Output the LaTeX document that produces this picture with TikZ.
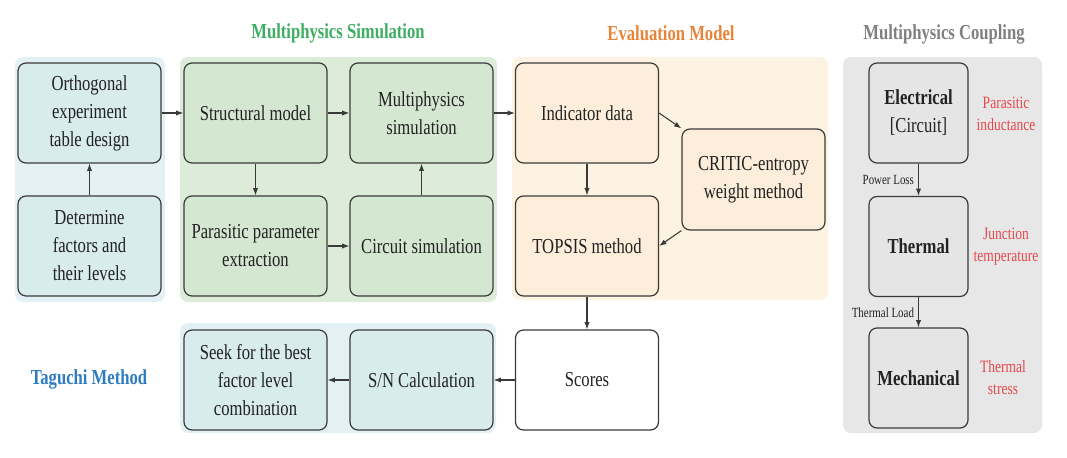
\documentclass[tikz,border=0pt]{standalone}
\usepackage{fontspec}
\setmainfont{Liberation Serif}[FakeStretch=0.78]
\usetikzlibrary{arrows.meta}
\definecolor{bluepanel}{HTML}{E4F1F4}
\definecolor{bluebox}{HTML}{D8ECEE}
\definecolor{greenpanel}{HTML}{DDEBD9}
\definecolor{greenbox}{HTML}{D4E8D1}
\definecolor{orangepanel}{HTML}{FDF3E3}
\definecolor{orangebox}{HTML}{FCEEDA}
\definecolor{graypanel}{HTML}{E7E7E7}
\definecolor{graybox}{HTML}{E5E5E5}
\definecolor{edgec}{HTML}{3A3A3A}
\definecolor{txtc}{HTML}{222222}
\definecolor{titlegreen}{HTML}{3DAE62}
\definecolor{titleorange}{HTML}{E8843A}
\definecolor{titlegray}{HTML}{808080}
\definecolor{titleblue}{HTML}{2E7CBF}
\definecolor{redtxt}{HTML}{E5484D}
\tikzset{
  panel/.style={rounded corners=6pt, draw=none},
  box/.style={draw=edgec, line width=0.9pt, rounded corners=6pt, align=center,
    minimum width=107.25pt, minimum height=75pt, inner sep=2pt, text=txtc,
    font=\fontsize{16}{21}\selectfont},
  cbox/.style={box, minimum width=74.25pt},
  title/.style={font=\bfseries\fontsize{16}{20}\selectfont},
  note/.style={text=redtxt, align=center, font=\fontsize{13}{16.5}\selectfont},
  small/.style={text=txtc, font=\fontsize{10.5}{12}\selectfont, inner sep=3pt},
  arr/.style={-{Latex[length=5.5pt,width=4pt]}, draw=edgec, line width=0.8pt}
}
\begin{document}
\begin{tikzpicture}[x=0.75pt,y=-0.75pt]
\useasboundingbox (0,0) rectangle (1067,457);
% panels
\fill[bluepanel,panel] (15,57) rectangle (165,302);
\fill[greenpanel,panel] (180,57) rectangle (497,302);
\fill[orangepanel,panel] (512,57) rectangle (828,300);
\fill[graypanel,panel] (843,57) rectangle (1042,433);
\fill[bluepanel,panel] (180,323) rectangle (496,433);
% titles
\node[title,text=titlegreen] (t1) at (338,33) {Multiphysics Simulation};
\node[title,text=titleorange] (t2) at (671,33) {Evaluation Model};
\node[title,text=titlegray] (t3) at (944,34) {Multiphysics Coupling};
\node[title,text=titleblue] (t4) at (89,379) {Taguchi Method};
% boxes
\node[box,fill=bluebox] (orth) at (89.5,113) {Orthogonal\\experiment\\table design};
\node[box,fill=bluebox] (det) at (89.5,246) {Determine\\factors and\\their levels};
\node[box,fill=greenbox] (struct) at (255.5,113) {Structural model};
\node[box,fill=greenbox] (para) at (255.5,246) {Parasitic parameter\\extraction};
\node[box,fill=greenbox] (multi) at (421.5,113) {Multiphysics\\simulation};
\node[box,fill=greenbox] (circ) at (421.5,246) {Circuit simulation};
\node[box,fill=orangebox] (ind) at (587,113) {Indicator data};
\node[box,fill=orangebox] (top) at (587,246) {TOPSIS method};
\node[box,fill=orangebox,minimum height=75.75pt] (crit) at (753.5,179.5) {CRITIC-entropy\\weight method};
\node[box,fill=bluebox] (seek) at (255.5,380) {Seek for the best\\factor level\\combination};
\node[box,fill=bluebox] (sn) at (421.5,380) {S/N Calculation};
\node[box,fill=white] (scores) at (587,380) {Scores};
\node[cbox,fill=graybox] (elec) at (918.5,113) {\textbf{Electrical}\\{}[Circuit]};
\node[cbox,fill=graybox] (therm) at (918.5,246.5) {\textbf{Thermal}};
\node[cbox,fill=graybox] (mech) at (918.5,378) {\textbf{Mechanical}};
% notes
\node[note] (n1) at (1006,114) {Parasitic\\inductance};
\node[note] (n2) at (1006,247) {Junction\\temperature};
\node[note] (n3) at (1003,378) {Thermal\\stress};
% arrows
\draw[arr] (det) -- (orth);
\draw[arr] (orth) -- (struct);
\draw[arr] (struct) -- (para);
\draw[arr] (para) -- (circ);
\draw[arr] (circ) -- (multi);
\draw[arr] (struct) -- (multi);
\draw[arr] (multi) -- (ind);
\draw[arr] (ind) -- (top);
\draw[arr] (ind.east) -- (crit.north west);
\draw[arr] (crit.south west) -- (top.east);
\draw[arr] (top) -- (scores);
\draw[arr] (scores) -- (sn);
\draw[arr] (sn) -- (seek);
\draw[arr] (elec) -- node[small,left] {Power Loss} (therm);
\draw[arr] (therm) -- node[small,left] {Thermal Load} (mech);
\end{tikzpicture}
\end{document}
